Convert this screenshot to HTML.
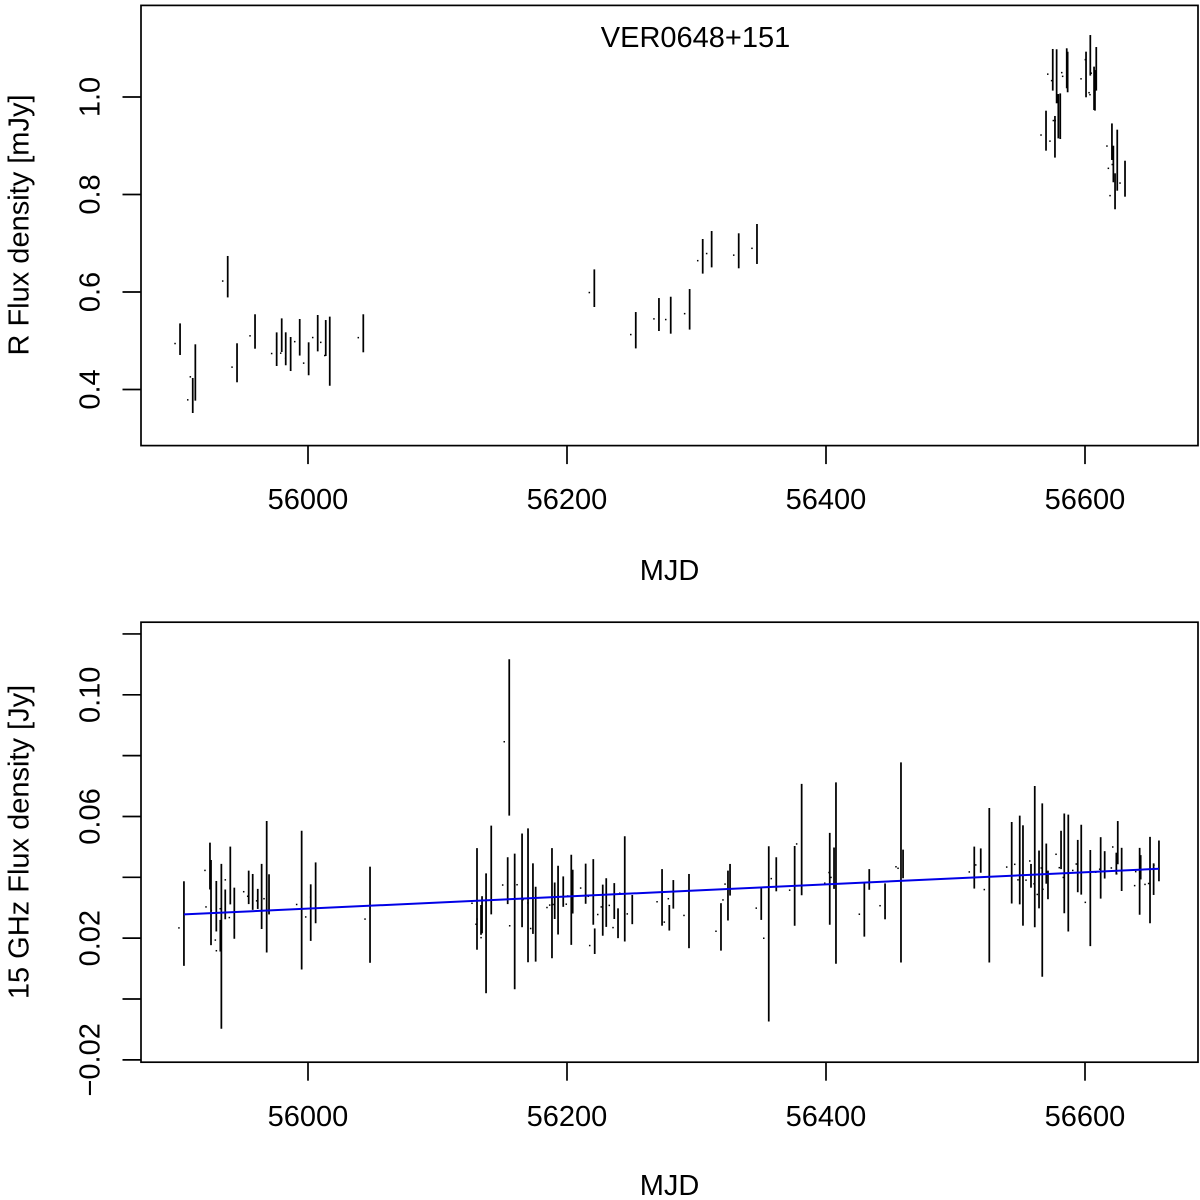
<!DOCTYPE html>
<html>
<head>
<meta charset="utf-8">
<title>VER0648+151</title>
<style>
html,body{margin:0;padding:0;background:#fff}
svg{display:block}
text{font-family:"Liberation Sans",Arial,sans-serif;font-size:29px;fill:#000}
</style>
</head>
<body>
<svg id="chart" width="1200" height="1200" viewBox="0 0 1200 1200" xmlns="http://www.w3.org/2000/svg">
  <rect x="0" y="0" width="1200" height="1200" fill="#fff"/>
  <g id="panelR">
    <rect x="141" y="5.4" width="1057" height="440.2" fill="none" stroke="#000" stroke-width="1.7"/>
    <text x="695.5" y="47" text-anchor="middle">VER0648+151</text>
    <text x="669.5" y="580" text-anchor="middle">MJD</text>
    <text transform="translate(28.5,225) rotate(-90)" text-anchor="middle">R Flux density [mJy]</text>
  </g>
  <g id="panelG">
    <rect x="141" y="622.2" width="1057" height="440" fill="none" stroke="#000" stroke-width="1.7"/>
    <text x="669.5" y="1195" text-anchor="middle">MJD</text>
    <text transform="translate(28.5,842) rotate(-90)" text-anchor="middle">15 GHz Flux density [Jy]</text>
  </g>
</svg>
<script>
var xTicks = [56000, 56200, 56400, 56600];
var xTickLabels = ["56000", "56200", "56400", "56600"];

var rTicks = [0.4, 0.6, 0.8, 1.0];
var rTickLabels = ["0.4", "0.6", "0.8", "1.0"];

var radioTicks = [-0.02, 0, 0.02, 0.04, 0.06, 0.08, 0.10, 0.12];
var radioTickLabels = ["\u22120.02", "", "0.02", "", "0.06", "", "0.10", ""];

var rMjd = [55901.2,55911.0,55913.0,55938.0,55945.2,55959.1,55975.8,55979.7,55982.8,55986.6,55993.6,56000.5,56007.5,56013.7,56016.8,56042.7,
  56221.1,56253.1,56271.0,56280.1,56294.7,56304.8,56311.7,56332.6,56346.7,
  56569.9,56575.1,56576.8,56578.1,56579.4,56580.9,56585.9,56586.6,56600.8,56604.1,56607.0,56607.7,56608.7,56620.8,56621.9,56623.2,56624.9,56630.9];
var rFlux = [0.5032,0.3877,0.4349,0.6314,0.4548,0.5190,0.4827,0.5114,0.4835,0.4728,0.5071,0.4630,0.5155,0.5056,0.4786,0.5153,
  0.6078,0.5216,0.5538,0.5524,0.5645,0.6732,0.6878,0.6845,0.6985,
  0.9309,1.0558,0.9184,1.0425,0.9606,0.9606,1.0589,1.0513,1.0462,1.0855,1.0178,1.0137,1.0578,0.9083,0.8626,0.8066,0.8704,0.8324];
var rErr = [0.0324,0.0359,0.0578,0.0425,0.0400,0.0353,0.0345,0.0345,0.0338,0.0349,0.0375,0.0338,0.0373,0.0369,0.0708,0.0390,
  0.0386,0.0373,0.0338,0.0379,0.0416,0.0355,0.0373,0.0359,0.0410,
  0.0410,0.0427,0.0427,0.0554,0.0455,0.0468,0.0410,0.0416,0.0468,0.0416,0.0445,0.0416,0.0447,0.0375,0.0375,0.0369,0.0626,0.0369];

var radioMjd = [55904.2,55924.3,55925.1,55929.2,55932.3,55933.1,55936.1,55940.0,55943.1,55954.2,55957.3,55961.2,55964.2,55968.1,55969.9,55995.1,56002.1,56005.9,56047.9,
  56130.5,56133.6,56134.4,56137.5,56141.5,56154.2,56155.4,56159.6,56165.3,56169.9,56173.7,56175.8,56188.4,56190.5,56193.1,56197.1,56203.3,56204.4,56214.4,56220.3,56221.4,56227.6,56230.3,56236.5,56239.4,56244.6,56250.4,
  56273.4,56279.0,56282.1,56294.2,56318.9,56324.3,56325.9,56350.0,56355.8,56361.6,56375.8,56381.2,56402.9,56406.2,56407.7,56429.6,56433.4,56445.6,56457.9,56459.5,
  56514.5,56519.5,56526.1,56543.4,56549.6,56552.1,56558.3,56561.2,56564.5,56567.0,56570.1,56571.4,56581.5,56584.0,56587.1,56594.4,56597.1,56604.1,56612.1,56615.2,56624.2,56625.3,56628.3,56642.2,56643.0,56650.2,56653.0,56657.1];
var radioFlux = [0.0248,0.0437,0.0317,0.0305,0.0208,0.0173,0.0311,0.0406,0.0282,0.0367,0.0352,0.0329,0.0337,0.0369,0.0344,0.0325,0.0284,0.0349,0.0277,
  0.0329,0.0260,0.0277,0.0216,0.0424,0.0389,0.0860,0.0255,0.0390,0.0341,0.0330,0.0246,0.0315,0.0323,0.0325,0.0353,0.0326,0.0353,0.0379,0.0352,0.0190,0.0292,0.0317,0.0322,0.0249,0.0362,0.0294,
  0.0334,0.0267,0.0344,0.0289,0.0237,0.0340,0.0392,0.0313,0.0214,0.0410,0.0372,0.0524,0.0395,0.0430,0.0414,0.0293,0.0393,0.0321,0.0449,0.0444,
  0.0432,0.0455,0.0374,0.0448,0.0457,0.0406,0.0405,0.0468,0.0393,0.0358,0.0445,0.0375,0.0490,0.0446,0.0414,0.0437,0.0458,0.0332,0.0431,0.0441,0.0445,0.0514,0.0426,0.0387,0.0433,0.0391,0.0394,0.0454];
var radioErr = [0.0139,0.0077,0.0140,0.0083,0.0052,0.0271,0.0049,0.0095,0.0084,0.0055,0.0059,0.0033,0.0107,0.0216,0.0066,0.0228,0.0093,0.0100,0.0158,
  0.0167,0.0049,0.0061,0.0197,0.0146,0.0077,0.0257,0.0223,0.0154,0.0220,0.0116,0.0123,0.0181,0.0060,0.0113,0.0050,0.0148,0.0072,0.0066,0.0108,0.0042,0.0084,0.0080,0.0059,0.0049,0.0173,0.0048,
  0.0093,0.0042,0.0047,0.0122,0.0078,0.0082,0.0052,0.0053,0.0288,0.0056,0.0131,0.0183,0.0151,0.0068,0.0298,0.0088,0.0034,0.0059,0.0329,0.0047,
  0.0069,0.0040,0.0254,0.0134,0.0146,0.0165,0.0039,0.0232,0.0095,0.0285,0.0066,0.0047,0.0063,0.0164,0.0192,0.0086,0.0115,0.0158,0.0101,0.0045,0.0036,0.0071,0.0071,0.0110,0.0040,0.0142,0.0052,0.0067];

var trendMjd = [55904.2, 56657.1];
var trendFlux = [0.0278, 0.0428];

var NS = "http://www.w3.org/2000/svg";

function xScale(m) { return 308 + (m - 56000) * 1.295; }
function yR(v) { return 97 + (1 - v) * 487.5; }
function yRadio(v) { return 999 - v * 3042; }

function make(tag, attrs, parent) {
  var el = document.createElementNS(NS, tag);
  for (var k in attrs) { el.setAttribute(k, attrs[k]); }
  parent.appendChild(el);
  return el;
}

function drawXAxis(parent, frameBottom, labelBaseline) {
  for (var i = 0; i < xTicks.length; i++) {
    var x = xScale(xTicks[i]);
    var tick = make("line", {x1: x, x2: x, y1: frameBottom, y2: frameBottom + 18.5, stroke: "#000", "stroke-width": 1.7}, parent);
    
    
    var label = make("text", {x: x, y: labelBaseline, "text-anchor": "middle"}, parent);
    label.textContent = xTickLabels[i];
    
    
  }
}

function drawYAxis(parent, ticks, labels, scale) {
  for (var i = 0; i < ticks.length; i++) {
    var y = scale(ticks[i]);
    var tick = make("line", {x1: 122.5, x2: 141, y1: y, y2: y, stroke: "#000", "stroke-width": 1.7}, parent);
    
    
    if (labels[i]) {
      var label = make("text", {transform: "translate(99.5," + y + ") rotate(-90)", "text-anchor": "middle"}, parent);
      label.textContent = labels[i];
      
      
    }
  }
}

function drawSeries(parent, mjd, flux, err, scale) {
  for (var i = 0; i < mjd.length; i++) {
    var x = xScale(mjd[i]);
    var bar = make("line", {x1: x, x2: x, y1: scale(flux[i] + err[i]), y2: scale(flux[i] - err[i]), stroke: "#000", "stroke-width": 1.75}, parent);
    
    
    var dot = make("rect", {x: x - 5.75, y: scale(flux[i]) + 3.6, width: 1.5, height: 1.5, fill: "#000"}, parent);
    
    
  }
}

var panelR = document.getElementById("panelR");
var panelG = document.getElementById("panelG");

drawXAxis(panelR, 445.6, 509);
drawYAxis(panelR, rTicks, rTickLabels, yR);
drawSeries(panelR, rMjd, rFlux, rErr, yR);

drawXAxis(panelG, 1062.2, 1126);
drawYAxis(panelG, radioTicks, radioTickLabels, yRadio);
drawSeries(panelG, radioMjd, radioFlux, radioErr, yRadio);

var trend = make("line", {
  x1: xScale(trendMjd[0]), y1: yRadio(trendFlux[0]),
  x2: xScale(trendMjd[1]), y2: yRadio(trendFlux[1]),
  stroke: "#0000e6", "stroke-width": 2
}, panelG);


</script>
</body>
</html>
